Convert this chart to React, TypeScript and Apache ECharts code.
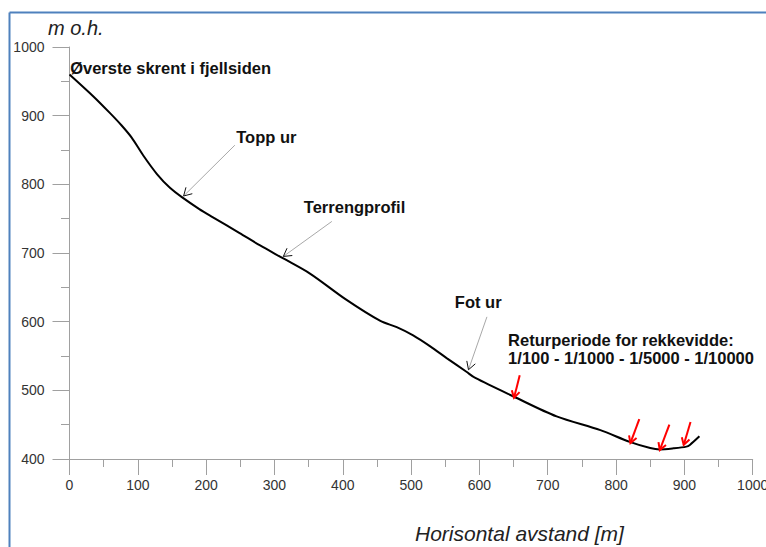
import React, { useEffect, useRef } from 'react';
import * as echarts from 'echarts';

// Terrain profile (horizontal distance [m], elevation [m o.h.])
const profileX = [0, 35, 59, 76, 91, 108, 128, 147, 165, 190, 210, 249, 279, 313, 352, 405, 455, 479, 503, 528, 552, 581, 594, 650, 713, 777, 820, 850, 864, 884, 903, 908, 922];
const profileY = [960, 928, 904, 886, 868, 842, 815, 795, 781, 764, 752, 729, 711, 692, 670, 632, 601, 592, 580, 564, 547, 527, 518, 491, 462, 442, 425, 416, 414, 415.5, 418, 420.5, 433];

// Axis ticks
const xTickValues = [0, 100, 200, 300, 400, 500, 600, 700, 800, 900, 1000];
const yTickValues = [400, 500, 600, 700, 800, 900, 1000];

// Red arrows: return period run-out (tail -> tip)
const returnTailX = [659, 834, 878, 909];
const returnTailY = [522, 458, 450, 454];
const returnTipX = [650.6, 821, 864, 899];
const returnTipY = [489, 423, 413, 420.5];

// Grey pointer arrows (tail -> tip)
const pointerTailX = [242, 384, 611];
const pointerTailY = [857, 746, 607];
const pointerTipX = [167, 313, 584];
const pointerTipY = [783, 695, 530];

// Annotation texts (left-anchored, vertically centred at data coords)
const labelTexts = [
  'Øverste skrent i fjellsiden',
  'Topp ur',
  'Terrengprofil',
  'Fot ur',
  'Returperiode for rekkevidde:',
  '1/100 - 1/1000 - 1/5000 - 1/10000',
];
const labelX = [1, 244, 343, 564, 642, 642];
const labelY = [970, 869, 767, 629, 573, 547];

const FONT = 'Arial, "Liberation Sans", Helvetica, sans-serif';

function arrowRenderer(lineColor: string, headColor: string, width: number, headLen: number) {
  return (params: any, api: any) => {
    const p1 = api.coord([api.value(0), api.value(1)]);
    const p2 = api.coord([api.value(2), api.value(3)]);
    const ang = Math.atan2(p2[1] - p1[1], p2[0] - p1[0]);
    const a = Math.PI / 6;
    const h1 = [p2[0] - headLen * Math.cos(ang - a), p2[1] - headLen * Math.sin(ang - a)];
    const h2 = [p2[0] - headLen * Math.cos(ang + a), p2[1] - headLen * Math.sin(ang + a)];
    return {
      type: 'group',
      children: [
        {
          type: 'line',
          shape: { x1: p1[0], y1: p1[1], x2: p2[0], y2: p2[1] },
          style: { stroke: lineColor, lineWidth: width },
        },
        {
          type: 'polyline',
          shape: { points: [h1, p2, h2] },
          style: { stroke: headColor, lineWidth: width, fill: 'none' },
        },
      ],
    };
  };
}

export default function App() {
  const ref = useRef<HTMLDivElement>(null);

  useEffect(() => {
    if (!ref.current) return;
    const chart = echarts.init(ref.current, null, { renderer: 'svg' });
    const axisGray = '#a0a0a0';

    const option: any = {
      animation: false,
      backgroundColor: '#ffffff',
      grid: { left: 69.5, right: 13.3, top: 47, bottom: 88, containLabel: false, outerBoundsMode: 'none' },
      xAxis: {
        type: 'value',
        min: xTickValues[0],
        max: xTickValues[xTickValues.length - 1],
        interval: 100,
        axisLine: { show: true, onZero: false, lineStyle: { color: axisGray, width: 1 } },
        axisTick: { show: true, length: 16, lineStyle: { color: axisGray } },
        minorTick: { show: true, splitNumber: 2, length: 8, lineStyle: { color: axisGray } },
        splitLine: { show: false },
        axisLabel: {
          color: '#333',
          fontSize: 14,
          fontFamily: FONT,
          margin: 19,
          showMaxLabel: true,
          formatter: (v: number) => String(v),
        },
      },
      yAxis: {
        type: 'value',
        min: yTickValues[0],
        max: yTickValues[yTickValues.length - 1],
        interval: 100,
        axisLine: { show: true, onZero: false, lineStyle: { color: axisGray, width: 1 } },
        axisTick: { show: true, length: 17, lineStyle: { color: axisGray } },
        minorTick: { show: true, splitNumber: 2, length: 8.5, lineStyle: { color: axisGray } },
        splitLine: { show: false },
        axisLabel: {
          color: '#333',
          fontSize: 14,
          fontFamily: FONT,
          margin: 25,
          formatter: (v: number) => String(v),
        },
      },
      graphic: [
        {
          type: 'line',
          shape: { x1: 9.5, y1: 12.5, x2: 766, y2: 12.5 },
          style: { stroke: '#4f81bd', lineWidth: 2 },
        },
        {
          type: 'line',
          shape: { x1: 9.5, y1: 12.5, x2: 9.5, y2: 547 },
          style: { stroke: '#4f81bd', lineWidth: 2 },
        },
        {
          type: 'text',
          x: 48,
          y: 28,
          style: {
            text: 'm o.h.',
            font: `italic 20px ${FONT}`,
            fill: '#222',
            textAlign: 'left',
            textVerticalAlign: 'middle',
          },
        },
        {
          type: 'text',
          x: 415,
          y: 533,
          style: {
            text: 'Horisontal avstand [m]',
            font: `italic 21px ${FONT}`,
            fill: '#222',
            textAlign: 'left',
            textVerticalAlign: 'middle',
          },
        },
      ],
      series: [
        {
          type: 'line',
          name: 'Terrengprofil',
          data: profileX.map((x, i) => [x, profileY[i]]),
          symbol: 'none',
          smooth: 0.3,
          lineStyle: { color: '#000', width: 2 },
          z: 3,
        },
        {
          type: 'custom',
          name: 'pointers',
          data: pointerTailX.map((x, i) => [x, pointerTailY[i], pointerTipX[i], pointerTipY[i]]),
          encode: { x: [0, 2], y: [1, 3] },
          renderItem: arrowRenderer('#a8a8a8', '#111', 1, 9),
          clip: false,
          z: 4,
        },
        {
          type: 'custom',
          name: 'returperiode',
          data: returnTailX.map((x, i) => [x, returnTailY[i], returnTipX[i], returnTipY[i]]),
          encode: { x: [0, 2], y: [1, 3] },
          renderItem: arrowRenderer('#ff0000', '#ff0000', 2, 8),
          clip: false,
          z: 5,
        },
        {
          type: 'custom',
          name: 'labels',
          data: labelX.map((x, i) => [x, labelY[i]]),
          encode: { x: 0, y: 1 },
          renderItem: (params: any, api: any) => {
            const p = api.coord([api.value(0), api.value(1)]);
            return {
              type: 'text',
              x: p[0],
              y: p[1],
              style: {
                text: labelTexts[params.dataIndex],
                font: `bold 16.5px ${FONT}`,
                fill: '#111',
                textAlign: 'left',
                textVerticalAlign: 'middle',
              },
            };
          },
          clip: false,
          z: 6,
        },
      ],
    };

    chart.setOption(option);
    return () => {
      chart.dispose();
    };
  }, []);

  return (
    <div
      ref={ref}
      style={{ position: 'fixed', left: 0, top: 0, width: 766, height: 547, background: '#fff' }}
    />
  );
}
